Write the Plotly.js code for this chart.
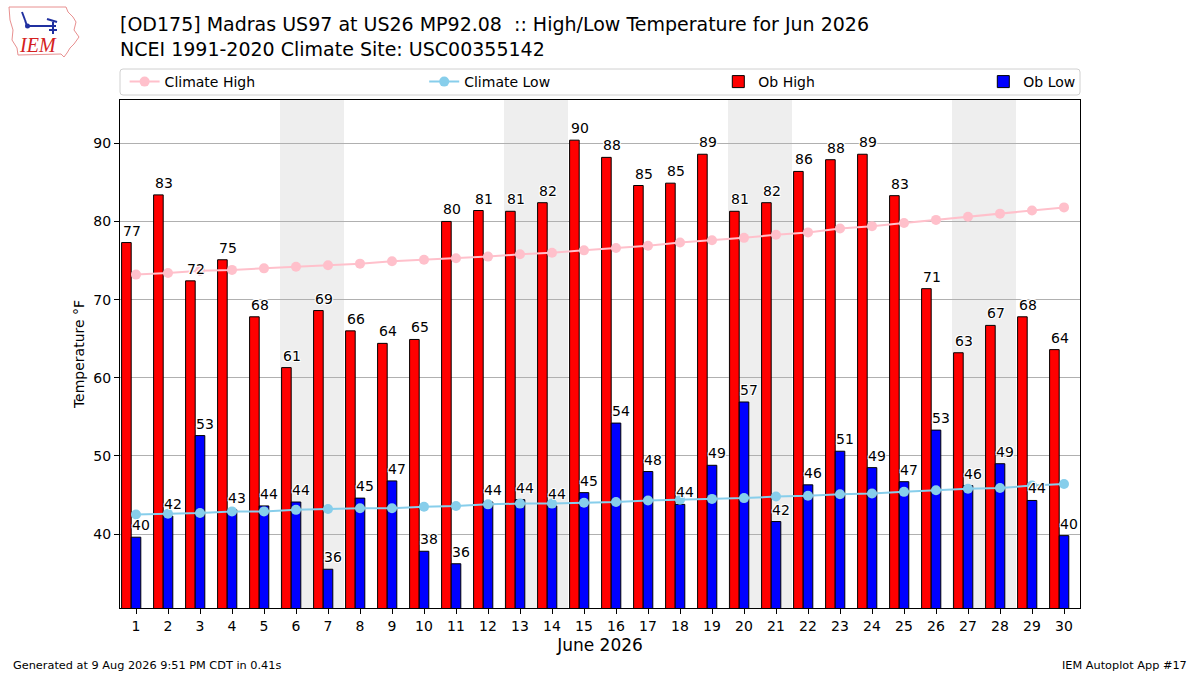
<!DOCTYPE html>
<html><head><meta charset="utf-8">
<script src="https://cdn.plot.ly/plotly-3.0.1.min.js"></script>
<style>html,body{margin:0;padding:0;background:#fff}#chart{width:1200px;height:675px}</style>
</head><body><div id="chart"></div>
<script>
// ---- data ----
const days = [1,2,3,4,5,6,7,8,9,10,11,12,13,14,15,16,17,18,19,20,21,22,23,24,25,26,27,28,29,30];
const obHigh = [77.3,83.4,72.4,75.1,67.8,61.3,68.6,66.0,64.4,64.9,80.0,81.4,81.3,82.4,90.4,88.2,84.6,84.9,88.6,81.3,82.4,86.4,87.9,88.6,83.3,71.4,63.2,66.7,67.8,63.6];
const obLow = [39.6,42.3,52.6,43.1,43.6,44.1,35.5,44.6,46.8,37.8,36.2,44.1,44.4,43.6,45.3,54.2,48.0,43.8,48.8,56.9,41.6,46.3,50.6,48.5,46.7,53.3,46.2,49.0,44.3,39.8];
const highLabels = [77,83,72,75,68,61,69,66,64,65,80,81,81,82,90,88,85,85,89,81,82,86,88,89,83,71,63,67,68,64];
const lowLabels = [40,42,53,43,44,44,36,45,47,38,36,44,44,44,45,54,48,44,49,57,42,46,51,49,47,53,46,49,44,40];
const climHigh = [73.2,73.4,73.7,73.8,74.0,74.2,74.4,74.6,74.9,75.1,75.3,75.5,75.8,76.0,76.3,76.6,76.9,77.3,77.6,77.9,78.3,78.6,79.1,79.4,79.8,80.2,80.6,81.0,81.4,81.8];
const climLow = [42.5,42.6,42.7,42.9,42.9,43.1,43.2,43.3,43.3,43.5,43.6,43.8,43.9,43.9,44.0,44.1,44.3,44.4,44.5,44.6,44.8,44.9,45.1,45.2,45.4,45.6,45.8,45.9,46.2,46.4];
const weekendDays = [6,7,13,14,20,21,27,28];
const yTicks = [40,50,60,70,80,90];
const titleLine1 = "[OD175] Madras US97 at US26 MP92.08\u00a0 :: High/Low Temperature for Jun 2026";
const titleLine2 = "NCEI 1991-2020 Climate Site: USC00355142";

// ---- geometry helpers (pixel -> paper) ----
const L = 120, R = 1080, T = 100, B = 608;
function px(x){ return (x - L) / (R - L); }
function py(y){ return (B - y) / (B - T); }
const FONT = "DejaVu Sans, Verdana, sans-serif";

const traces = [
  {type:'bar', name:'Ob High', x:days, y:obHigh, width:0.3, offset:-0.45,
   marker:{color:'red', line:{color:'black', width:1}}, legend:'legend3', hoverinfo:'skip'},
  {type:'bar', name:'Ob Low', x:days, y:obLow, width:0.3, offset:-0.15,
   marker:{color:'blue', line:{color:'black', width:1}}, legend:'legend4', hoverinfo:'skip'},
  {type:'scatter', mode:'lines+markers', name:'Climate High', x:days, y:climHigh,
   line:{color:'pink', width:2}, marker:{color:'pink', size:10}, legend:'legend', hoverinfo:'skip'},
  {type:'scatter', mode:'lines+markers', name:'Climate Low', x:days, y:climLow,
   line:{color:'skyblue', width:2}, marker:{color:'skyblue', size:10}, legend:'legend2', hoverinfo:'skip'}
];

const halo = '1px 1px 0px white, -1px -1px 0px white, 1px -1px 0px white, -1px 1px 0px white';
const annotations = [];
days.forEach((d, i) => {
  annotations.push({x:d-0.45, y:obHigh[i], text:String(highLabels[i]), xanchor:'left', yanchor:'bottom',
    showarrow:false, xshift:-1, yshift:2, font:{family:FONT, size:14, color:'black', shadow:halo}});
  annotations.push({x:d-0.15, y:obLow[i], text:String(lowLabels[i]), xanchor:'left', yanchor:'bottom',
    showarrow:false, xshift:-1, yshift:2, font:{family:FONT, size:14, color:'black', shadow:halo}});
});
annotations.push({xref:'paper', yref:'paper', x:px(11), y:py(665), xanchor:'left', yanchor:'middle',
  text:'Generated at 9 Aug 2026 9:51 PM CDT in 0.41s', showarrow:false, font:{family:FONT, size:11.3, color:'black'}});
annotations.push({xref:'paper', yref:'paper', x:px(1189), y:py(665), xanchor:'right', yanchor:'middle',
  text:'IEM Autoplot App #17', showarrow:false, font:{family:FONT, size:11.3, color:'black'}});
annotations.push({xref:'paper', yref:'paper', x:px(38), y:py(45), xanchor:'center', yanchor:'middle',
  text:'<i>IEM</i>', showarrow:false, font:{family:'Liberation Serif, serif', size:20, color:'#d42020'}});

const shapes = [];
weekendDays.forEach(d => {
  shapes.push({type:'rect', xref:'x', yref:'paper', x0:d-0.5, x1:d+0.5, y0:0, y1:1,
    fillcolor:'#eeeeee', line:{width:0}, layer:'below'});
});
// legend frame (rounded)
(function(){
  const x0=120, x1=1080, y0=69, y1=95, r=3;
  const p = (x,y) => px(x)+','+py(y);
  const path = 'M'+p(x0+r,y0)+' L'+p(x1-r,y0)+' Q'+p(x1,y0)+' '+p(x1,y0+r)+' L'+p(x1,y1-r)+' Q'+p(x1,y1)+' '+p(x1-r,y1)+
    ' L'+p(x0+r,y1)+' Q'+p(x0,y1)+' '+p(x0,y1-r)+' L'+p(x0,y0+r)+' Q'+p(x0,y0)+' '+p(x0+r,y0)+' Z';
  shapes.push({type:'path', xref:'paper', yref:'paper', path:path, line:{color:'#d0d0d0', width:1}, fillcolor:'rgba(255,255,255,0.8)', layer:'above'});
})();
// logo outline (Iowa shape) and station glyph
(function(){
  const pts = [[9,7],[66,7],[68,12],[73,17],[76,22],[74,30],[79,37],[74,44],[70,48],[67,53],[64,57],[61,54],[18,55],[17,48],[12,40],[13,30],[10,20],[9,7]];
  const path = 'M' + pts.map(q => px(q[0])+','+py(q[1])).join(' L') + ' Z';
  shapes.push({type:'path', xref:'paper', yref:'paper', path:path, line:{color:'#e89090', width:1}, layer:'above'});
  const segs = [[[27,26],[56,26]],[[22,12],[25,20]],[[25,20],[27,26]],[[47,19],[57,22]],[[53,22],[53,34]],[[49,30],[57,30]]];
  segs.forEach(s => shapes.push({type:'line', xref:'paper', yref:'paper', x0:px(s[0][0]), y0:py(s[0][1]), x1:px(s[1][0]), y1:py(s[1][1]),
    line:{color:'#2030a0', width:2}, layer:'above'}));
  shapes.push({type:'circle', xref:'paper', yref:'paper', x0:px(25), x1:px(30), y0:py(23.5), y1:py(28.5), fillcolor:'#2030a0', line:{width:0}, layer:'above'});
})();

function legendAt(xpx){
  return {orientation:'h', x:px(xpx), y:py(82), xanchor:'left', yanchor:'middle', xref:'paper', yref:'paper',
    bgcolor:'rgba(0,0,0,0)', borderwidth:0, font:{family:FONT, size:14, color:'black'}};
}

const layout = {
  width:1200, height:675, paper_bgcolor:'white', plot_bgcolor:'white',
  margin:{l:L, r:1200-R, t:T, b:675-B, pad:0},
  barmode:'overlay', showlegend:true,
  font:{family:FONT, size:14, color:'black'},
  title:{text:titleLine1+'<br>'+titleLine2, x:120/1200, xanchor:'left', xref:'container',
    y:1-31/675, yanchor:'top', yref:'container', font:{family:FONT, size:19, color:'black'}},
  xaxis:{range:[0.5,30.5], tickmode:'array', tickvals:days, ticktext:days.map(String),
    ticks:'outside', ticklen:5, tickwidth:1, tickcolor:'black', showline:true, mirror:true,
    linecolor:'black', linewidth:1, showgrid:false, zeroline:false, fixedrange:true,
    tickfont:{family:FONT, size:14, color:'black'},
    title:{text:'June 2026', font:{family:FONT, size:17, color:'black'}, standoff:6}},
  yaxis:{range:[30.54,95.54], tickmode:'array', tickvals:yTicks, ticktext:yTicks.map(String),
    ticks:'outside', ticklen:5, tickwidth:1, tickcolor:'black', showline:true, mirror:true,
    linecolor:'black', linewidth:1, showgrid:true, gridcolor:'#b0b0b0', gridwidth:1, zeroline:false, fixedrange:true,
    tickfont:{family:FONT, size:14, color:'black'},
    title:{text:'Temperature °F', font:{family:FONT, size:14, color:'black'}, standoff:5}},
  legend:legendAt(124.6), legend2:legendAt(424.2), legend3:legendAt(718.3), legend4:legendAt(983.3),
  annotations:annotations, shapes:shapes
};

Plotly.newPlot('chart', traces, layout, {staticPlot:true, displayModeBar:false});
</script></body></html>
